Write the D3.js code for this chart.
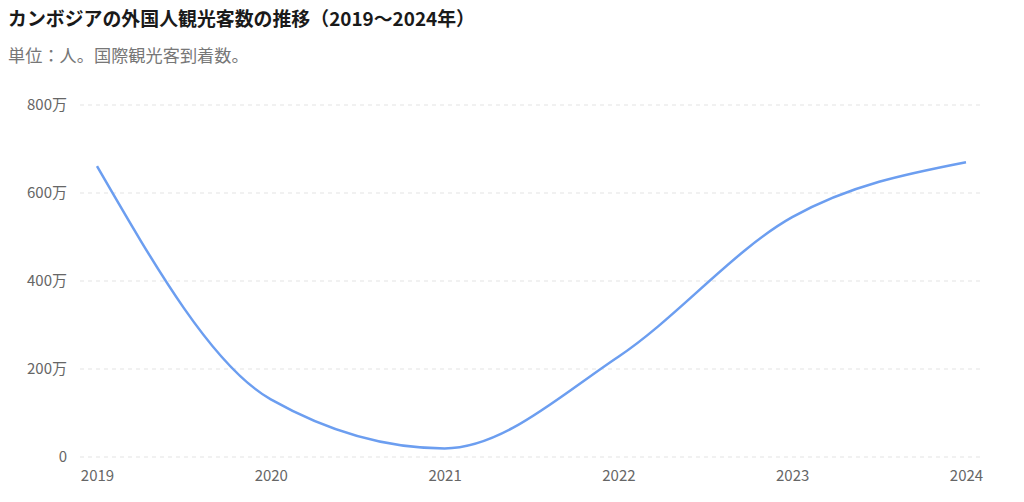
<!DOCTYPE html>
<html>
<head>
<meta charset="utf-8">
<script src="https://cdn.jsdelivr.net/npm/d3@7"></script>
<style>
  body { margin: 0; background: #fff; }
  svg { display: block; font-family: "Noto Sans CJK JP", "Noto Sans", sans-serif; }
</style>
</head>
<body>
<div id="chart"></div>
<script>
// data
var years = ["2019", "2020", "2021", "2022", "2023", "2024"];
var visitors = [6610000, 1310000, 196000, 2280000, 5450000, 6700000];
var yTicks = [0, 2000000, 4000000, 6000000, 8000000];
var title = "カンボジアの外国人観光客数の推移（2019〜2024年）";
var subtitle = "単位：人。国際観光客到着数。";

var width = 1024, height = 502;

var svg = d3.select("#chart").append("svg")
  .attr("width", width)
  .attr("height", height);

svg.append("text")
  .attr("x", 8).attr("y", 26)
  .attr("font-size", "18.9px")
  .attr("font-weight", "bold")
  .attr("fill", "#1a1a1a")
  .text(title);

svg.append("text")
  .attr("x", 8).attr("y", 62)
  .attr("font-size", "17.2px")
  .attr("fill", "#777")
  .text(subtitle);

var x = d3.scalePoint().domain(years).range([97, 966]);
var y = d3.scaleLinear().domain([0, 8000000]).range([457, 105]);

// grid lines
svg.append("g").selectAll("line")
  .data(yTicks)
  .enter().append("line")
  .attr("x1", 80).attr("x2", 983)
  .attr("y1", function(d) { return y(d); })
  .attr("y2", function(d) { return y(d); })
  .attr("stroke", "#e3e3e3")
  .attr("stroke-width", 1)
  .attr("stroke-dasharray", "4,4");

// y axis
var yAxis = d3.axisLeft(y)
  .tickValues(yTicks)
  .tickSize(0)
  .tickPadding(0)
  .tickFormat(function(d) { return d === 0 ? "0" : (d / 10000) + "万"; });

var gy = svg.append("g").attr("transform", "translate(67,0)").call(yAxis);
gy.select(".domain").remove();
gy.selectAll("text").attr("font-size", "15px").attr("fill", "#666")
  .attr("font-family", "\"Noto Sans CJK JP\", sans-serif");

// x axis
var xAxis = d3.axisBottom(x).tickSize(0).tickPadding(0);
var gx = svg.append("g").attr("transform", "translate(0,470)").call(xAxis);
gx.select(".domain").remove();
gx.selectAll("text").attr("font-size", "15px").attr("fill", "#666")
  .attr("font-family", "\"Noto Sans CJK JP\", sans-serif");

// line
var line = d3.line()
  .x(function(d, i) { return x(years[i]); })
  .y(function(d) { return y(d); })
  .curve(d3.curveMonotoneX);

svg.append("path")
  .datum(visitors)
  .attr("fill", "none")
  .attr("stroke", "#6c9ef0")
  .attr("stroke-width", 2.5)
  .attr("d", line);
</script>
</body>
</html>
